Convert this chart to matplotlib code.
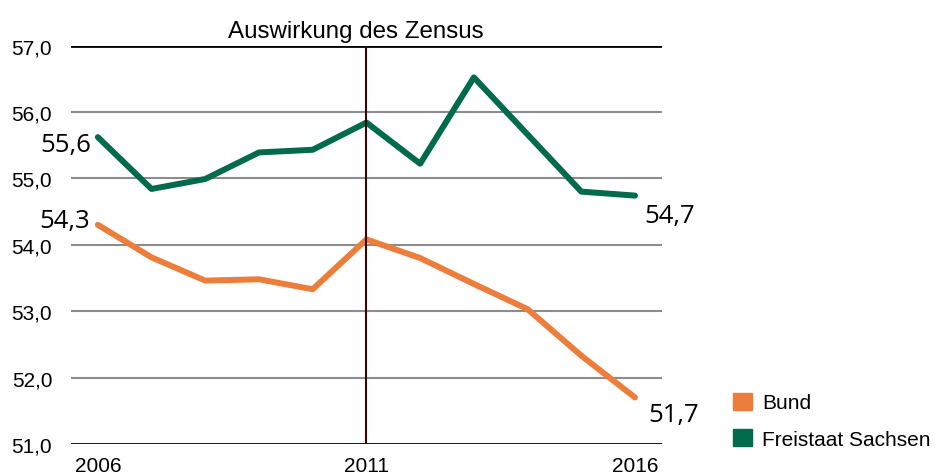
import matplotlib.pyplot as plt
from matplotlib.patches import Patch

years = list(range(2006, 2017))
bund = [54.30, 53.81, 53.46, 53.48, 53.33, 54.08, 53.80, 53.41, 53.03, 52.33, 51.70]
sachsen = [55.62, 54.84, 54.99, 55.39, 55.43, 55.84, 55.22, 56.52, 55.66, 54.80, 54.74]
yticks = [51, 52, 53, 54, 55, 56, 57]
xticks = [2006, 2011, 2016]
zensus_year = 2011

orange = '#ED7D3A'
green = '#006B4A'

plt.rcParams['font.family'] = ['Liberation Sans', 'DejaVu Sans']

fig = plt.figure(figsize=(9.35, 4.77), dpi=100)
ax = fig.add_axes([0.0759, 0.0671, 0.632, 0.8354])

# Gitternetz
for y in yticks:
    if y in (yticks[0], yticks[-1]):
        ax.axhline(y, color='black', lw=2.0, zorder=1)
    else:
        ax.axhline(y, color='#8c8c8c', lw=1.5, zorder=1)

ax.plot(years, bund, color=orange, lw=4.3, solid_capstyle='round', zorder=3)
ax.plot(years, sachsen, color=green, lw=4.3, solid_capstyle='round', zorder=3)

# Zensus-Linie
ax.axvline(zensus_year, color='#3a0505', lw=1.5, zorder=4)

ax.set_xlim(2005.5, 2016.5)
ax.set_ylim(51, 57)
ax.set_yticks(yticks)
ax.set_yticklabels([f'{v:.1f}'.replace('.', ',') for v in yticks])
ax.set_xticks(xticks)
ax.set_xticklabels([str(x) for x in xticks])
ax.tick_params(axis='both', length=0, labelsize=15, colors='black')
ax.tick_params(axis='y', pad=13.5)
ax.tick_params(axis='x', pad=9)
for s in ax.spines.values():
    s.set_visible(False)

ax.set_title('Auswirkung des Zensus', fontsize=17.4, pad=6, x=0.482)

# Datenbeschriftungen
lab = dict(family=['Open Sans', 'DejaVu Sans'], fontsize=18.5, color='black')
fmt = lambda v: f'{v:.1f}'.replace('.', ',')
ax.annotate(fmt(sachsen[0]), (years[0], sachsen[0]), xytext=(-7, -7),
            textcoords='offset pixels', ha='right', va='center', **lab)
ax.annotate(fmt(bund[0]), (years[0], bund[0]), xytext=(-8, 4),
            textcoords='offset pixels', ha='right', va='center', **lab)
ax.annotate('54,7', (years[-1], sachsen[-1]), xytext=(9, -20),
            textcoords='offset pixels', ha='left', va='center', **lab)
ax.annotate(fmt(bund[-1]), (years[-1], bund[-1]), xytext=(13, -17),
            textcoords='offset pixels', ha='left', va='center', **lab)

handles = [Patch(color=orange, label='Bund'), Patch(color=green, label='Freistaat Sachsen')]
fig.legend(handles=handles, loc='upper left', bbox_to_anchor=(0.784, 0.175),
           frameon=False, fontsize=15, handlelength=0.9, handleheight=0.9,
           handletextpad=0.5, labelspacing=0.8, borderaxespad=0, borderpad=0)

fig.savefig('out.png', dpi=100)
